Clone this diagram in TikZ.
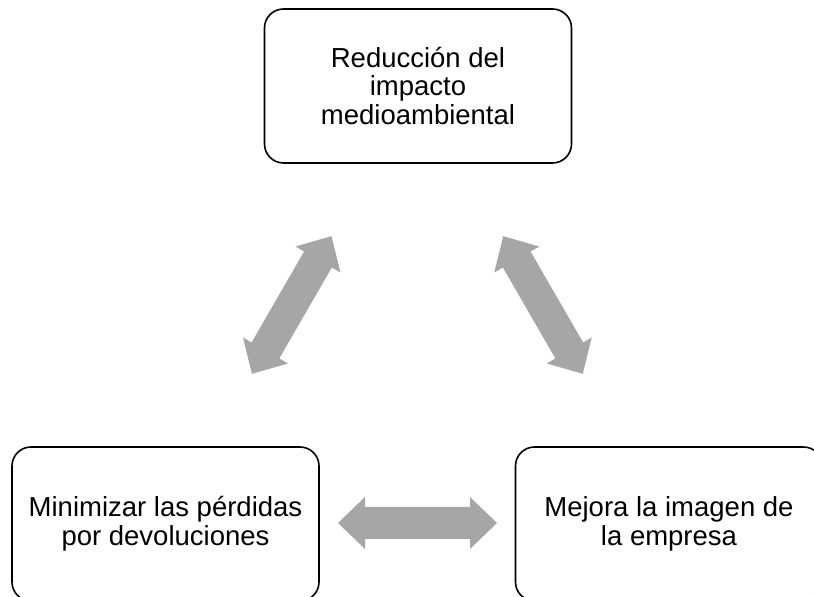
\documentclass[tikz,border=0pt]{standalone}
\usepackage{fontspec}
\setmainfont{Liberation Sans}
\definecolor{arrowgray}{RGB}{166,166,166}
\tikzset{
  box/.style={draw=black, line width=1.6pt, rounded corners=19pt, fill=white,
    minimum width=307pt, minimum height=154pt, align=center, inner sep=0pt,
    font=\fontsize{27.5}{28.6}\selectfont},
  darrow/.pic={
    \fill[arrowgray] (-79.5,0) -- (-52.5,26) -- (-52.5,16) -- (52.5,16) -- (52.5,26)
      -- (79.5,0) -- (52.5,-26) -- (52.5,-16) -- (-52.5,-16) -- (-52.5,-26) -- cycle;
  }
}
\begin{document}
\begin{tikzpicture}[x=1pt,y=1pt]
\useasboundingbox (0,0) rectangle (814,597);
\clip (0,0) rectangle (814,597);
\node[box] (top) at (418,511) {Reducción del\\impacto\\medioambiental};
\node[box] (left) at (165.5,73) {Minimizar las pérdidas\\por devoluciones};
\node[box] (right) at (669,73) {Mejora la imagen de\\la empresa};
\coordinate (aL) at (291.7,292);
\coordinate (aR) at (543,292);
\coordinate (aB) at (417.5,74);
\pic[rotate=60] at (aL) {darrow};
\pic[rotate=-60] at (aR) {darrow};
\pic at (aB) {darrow};
\end{tikzpicture}
\end{document}
